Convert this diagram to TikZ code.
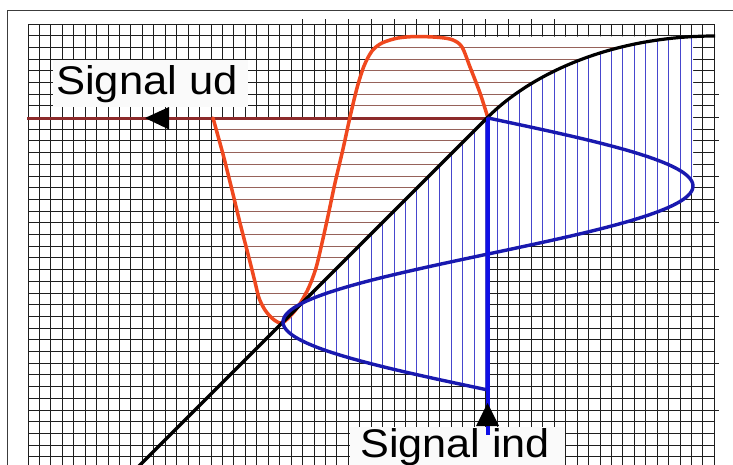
\documentclass[tikz,border=0pt]{standalone}
\usepackage{fontspec}
\setmainfont{Liberation Sans}
\usepackage{graphicx}
\definecolor{gridc}{RGB}{30,30,30}
\definecolor{framec}{RGB}{60,60,60}
\definecolor{redhatchc}{RGB}{150,98,90}
\definecolor{bluehatchc}{RGB}{70,70,205}
\definecolor{redc}{RGB}{240,72,30}
\definecolor{darkredc}{RGB}{140,42,42}
\definecolor{bluec}{RGB}{25,25,175}
\definecolor{bluevc}{RGB}{15,15,230}
\definecolor{boxc}{RGB}{250,250,250}
\begin{document}
\begin{tikzpicture}[x=1pt,y=-1pt,
  gridline/.style={draw=gridc, line width=1.7pt},
  tickline/.style={draw=gridc, line width=1.5pt},
  framel/.style={draw=framec, line width=1.6pt},
  redhatch/.style={draw=redhatchc, line width=1.4pt},
  bluehatch/.style={draw=bluehatchc, line width=1.5pt},
  redcurve/.style={draw=redc, line width=3.5pt, line join=round, line cap=round},
  outline/.style={draw=darkredc, line width=3pt},
  blackcurve/.style={draw=black, line width=3.2pt, line join=round},
  bluecurve/.style={draw=bluec, line width=3.4pt, line join=round, line cap=round},
  bluevert/.style={draw=bluevc, line width=3.4pt},
  arrowhead/.style={fill=black},
  boxbg/.style={fill=boxc},
  lbl/.style={inner sep=0pt, font=\fontsize{40pt}{40pt}\selectfont, text=black}
]
\useasboundingbox (0,0) rectangle (733,464);
\clip (0,0) rectangle (733,464);
\fill[white] (0,0) rectangle (733,464);
% outer frame
\draw[framel] (7.5,480) -- (7.5,10.5) -- (745,10.5);
% grid
\foreach \k in {0,...,38} {
  \draw[gridline] (28,{floor(24+11.7*\k)+0.5}) -- (715,{floor(24+11.7*\k)+0.5});
}
\foreach \k in {0,...,60} {
  \draw[gridline] ({floor(28+11.44*\k)+0.5},24) -- ({floor(28+11.44*\k)+0.5},470);
}
% small ticks
\foreach \k in {24,26,...,46} {
  \draw[tickline] ({floor(28+11.44*\k)+0.5},19) -- ({floor(28+11.44*\k)+0.5},24);
}
\foreach \k in {6,8,10,13,17,21,25,29,33} {
  \draw[tickline] (714.5,{floor(24+11.7*\k)+0.5}) -- (719,{floor(24+11.7*\k)+0.5});
}
% red (output) region: white fill + horizontal hatch
\begin{scope}
  \clip plot[smooth] coordinates {(213,118) (218,136) (224,158) (232,190) (240,223) (249,258) (255,282) (259,298) (265,310) (273,319) (283,322)}
    -- (488,117) .. controls (530,75) and (610,36) .. (715,36)
    -- (440,37) -- plot[smooth] coordinates {(440,37) (417,36.5) (398,38) (382,43) (372,51) (364,66) (357,88) (350,117)} -- cycle;
  \fill[white] (0,0) rectangle (733,464);
  \foreach \k in {0,...,38} {
    \draw[redhatch] (28,{floor(24+11.7*\k)+0.5}) -- (715,{floor(24+11.7*\k)+0.5});
  }
\end{scope}
% blue (input) region: white fill + vertical hatch
\begin{scope}
  \clip plot[domain=186:254, samples=40] ({488+205*sin(1.323529*(\x-118))},\x)
    -- (488,390)
    -- plot[domain=0:68, samples=40] ({488+205*sin(1.323529*(272-\x))},{390-\x})
    -- (488,117) .. controls (530,75) and (610,36) .. (715,36)
    -- (693,36) -- cycle;
  \fill[white] (0,0) rectangle (733,464);
  \foreach \k in {0,...,60} {
    \draw[bluehatch] ({floor(28+11.44*\k)+0.5},24) -- ({floor(28+11.44*\k)+0.5},470);
  }
\end{scope}
% label boxes
\fill[boxbg] (53,60) rectangle (248,107);
\fill[boxbg] (350,427) rectangle (565,472);
\node[lbl, anchor=base west] (ud) at (56,94) {\scalebox{1.09}[1]{Signal ud}};
\node[lbl, anchor=base west] (ind) at (360,457) {\scalebox{1.08}[1]{Signal ind}};
% output level line
\coordinate (outL) at (27,118);
\coordinate (opR) at (488,118);
\draw[outline] (outL) -- (opR);
% output signal (red)
\draw[redcurve] plot[smooth] coordinates {(213,118) (218,136) (224,158) (232,190) (240,223) (249,258) (255,282) (259,298) (265,310) (273,319) (282,323) (293,313) (301,302) (309,287) (316,268) (322,243) (328,216) (335,183) (343,149) (350,117) (357,88) (364,66) (372,51) (382,43) (398,38) (417,36.5) (440,37.5) (453,40) (462,47) (470,67) (480,93) (488,118)};
% characteristic (black)
\coordinate (chStart) at (135,470);
\coordinate (chKnee) at (488,117);
\coordinate (chEnd) at (715,36);
\draw[blackcurve] (chStart) -- (chKnee) .. controls (530,75) and (610,36) .. (chEnd);
% input signal (blue)
\draw[bluecurve] plot[domain=118:390, samples=160] ({488+205*sin(1.323529*(\x-118))},\x);
\coordinate (inTop) at (488,118);
\coordinate (inBot) at (488,435);
\draw[bluevert] (inTop) -- (inBot);
% arrowheads
\fill[arrowhead] (145,118) -- (169,107) -- (169,129.5) -- cycle;
\fill[arrowhead] (487.5,403) -- (476,426) -- (499,426) -- cycle;
\end{tikzpicture}
\end{document}
